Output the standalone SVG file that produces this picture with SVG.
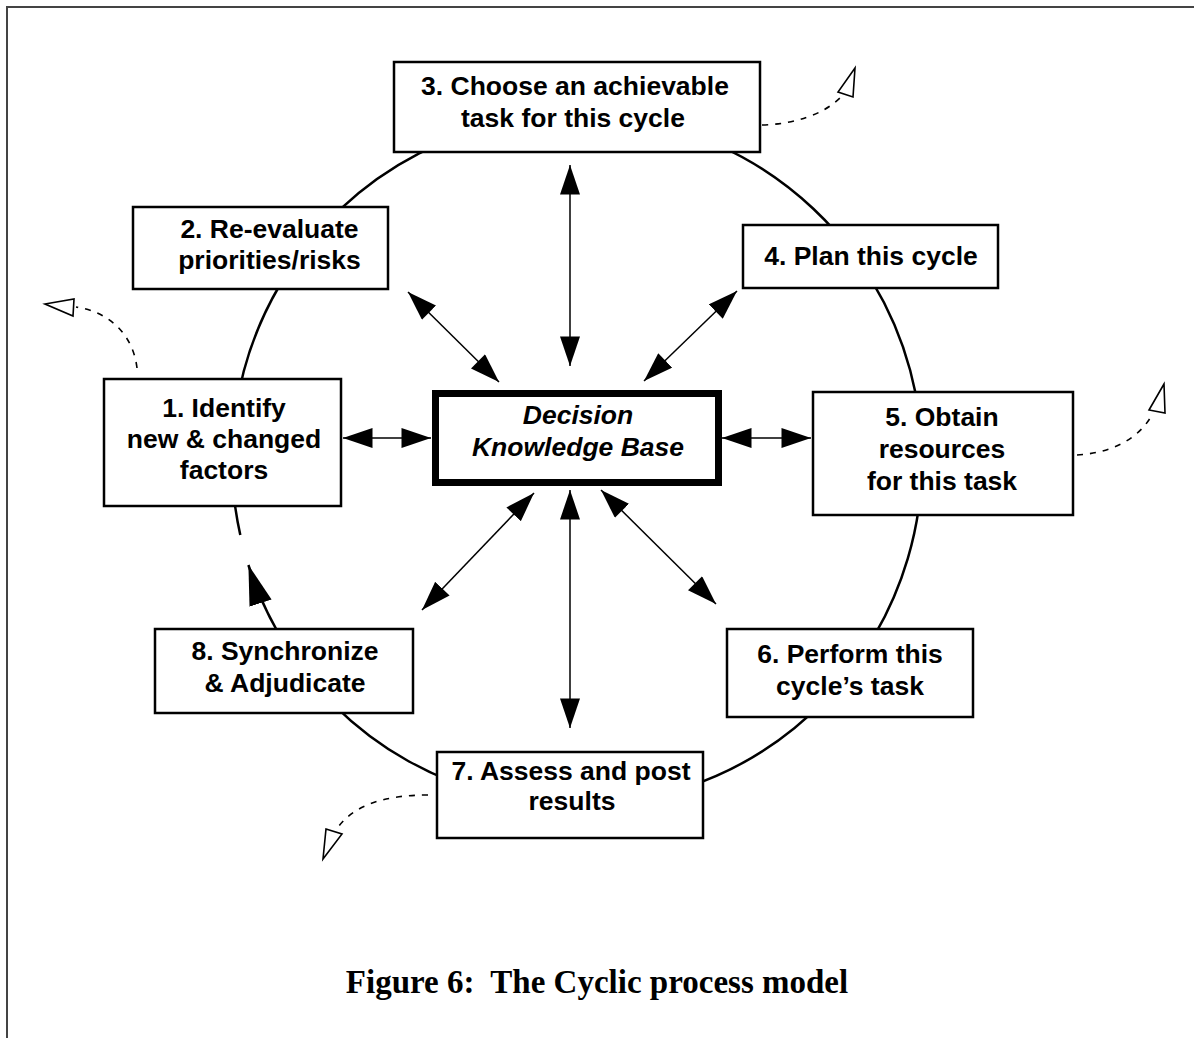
<svg xmlns="http://www.w3.org/2000/svg" width="1194" height="1038" viewBox="0 0 1194 1038">
  <style>
    .box { fill: #fff; stroke: #000; stroke-width: 2.5; }
    .core { fill: #fff; stroke: #000; stroke-width: 7; }
    .lbl { font-family: "Liberation Sans", Arial, sans-serif; font-weight: bold; font-size: 26.5px; text-anchor: middle; fill: #000; }
    .core-lbl { font-family: "Liberation Sans", Arial, sans-serif; font-weight: bold; font-style: italic; font-size: 26.5px; text-anchor: middle; fill: #000; }
    .link { fill: none; stroke: #000; stroke-width: 1.5; marker-start: url(#head); marker-end: url(#head); }
    .ring { fill: none; stroke: #000; stroke-width: 2.5; }
    .dash { fill: none; stroke: #000; stroke-width: 1.6; stroke-dasharray: 6 7; }
    .open { fill: #fff; stroke: #000; stroke-width: 1.6; }
    .caption { font-family: "Liberation Serif", "Times New Roman", serif; font-weight: bold; font-size: 33px; text-anchor: middle; fill: #000; white-space: pre; }
  </style>
  <defs>
    <marker id="head" markerUnits="userSpaceOnUse" markerWidth="30" markerHeight="20" refX="28" refY="9.5" orient="auto-start-reverse" viewBox="0 0 28 19">
      <path d="M0,0 L28,9.5 L0,19 Z" fill="#000"/>
    </marker>
    <marker id="bighead" markerUnits="userSpaceOnUse" markerWidth="40" markerHeight="24" refX="38" refY="11" orient="auto" viewBox="0 0 38 22">
      <path d="M0,0 L38,11 L0,22 Z" fill="#000"/>
    </marker>
  </defs>

  <rect width="1194" height="1038" fill="#fff"/>
  <!-- page frame -->
  <path d="M7,1038 V7 H1194" fill="none" stroke="#444" stroke-width="2"/>

  <!-- cycle ring with the return arrow into step 1 -->
  <path class="ring" d="M240.3,535 A345,345 0 1 1 248.4,565" marker-end="url(#bighead)"/>

  <g id="connectors">
    <line class="link" x1="570" y1="165" x2="570" y2="366"/>
    <line class="link" x1="408" y1="292" x2="499" y2="382"/>
    <line class="link" x1="737" y1="291" x2="644" y2="381"/>
    <line class="link" x1="343" y1="438" x2="431" y2="438"/>
    <line class="link" x1="722" y1="438" x2="811" y2="438"/>
    <line class="link" x1="534" y1="493" x2="422" y2="610"/>
    <line class="link" x1="570" y1="490" x2="570" y2="728"/>
    <line class="link" x1="601" y1="490" x2="716" y2="604"/>

    <!-- dashed outflows -->
    <path class="dash" d="M762,125 C795,124 822,115 840,98"/>
    <polygon class="open" points="855,68 838,92 853,97"/>
    <path class="dash" d="M137,368 C133,335 110,312 76,307"/>
    <polygon class="open" points="45,304 74,299 73,316"/>
    <path class="dash" d="M1077,455 C1110,453 1138,440 1152,415"/>
    <polygon class="open" points="1164,384 1149,410 1165,413"/>
    <path class="dash" d="M428,795 C385,795 355,805 339,826"/>
    <polygon class="open" points="326,829 342,834 323,859"/>
  </g>

  <g id="n3">
    <rect class="box" x="394" y="62" width="366" height="90"/>
    <text class="lbl" x="575" y="95">3. Choose an achievable</text>
    <text class="lbl" x="573" y="127">task for this cycle</text>
  </g>
  <g id="n2">
    <rect class="box" x="133" y="207" width="255" height="82"/>
    <text class="lbl" x="269.5" y="238">2. Re-evaluate</text>
    <text class="lbl" x="269.5" y="269">priorities/risks</text>
  </g>
  <g id="n4">
    <rect class="box" x="743" y="225" width="255" height="63"/>
    <text class="lbl" x="871" y="265">4. Plan this cycle</text>
  </g>
  <g id="n1">
    <rect class="box" x="104" y="379" width="237" height="127"/>
    <text class="lbl" x="224" y="417">1. Identify</text>
    <text class="lbl" x="224" y="448">new &amp; changed</text>
    <text class="lbl" x="224" y="479">factors</text>
  </g>
  <g id="core">
    <rect class="core" x="435.5" y="393.5" width="283" height="89"/>
    <text class="core-lbl" x="578" y="424">Decision</text>
    <text class="core-lbl" x="578" y="456">Knowledge Base</text>
  </g>
  <g id="n5">
    <rect class="box" x="813" y="392" width="260" height="123"/>
    <text class="lbl" x="942" y="426">5. Obtain</text>
    <text class="lbl" x="942" y="458">resources</text>
    <text class="lbl" x="942" y="490">for this task</text>
  </g>
  <g id="n8">
    <rect class="box" x="155" y="629" width="258" height="84"/>
    <text class="lbl" x="285" y="660">8. Synchronize</text>
    <text class="lbl" x="285" y="692">&amp; Adjudicate</text>
  </g>
  <g id="n6">
    <rect class="box" x="727" y="629" width="246" height="88"/>
    <text class="lbl" x="850" y="663">6. Perform this</text>
    <text class="lbl" x="850" y="695">cycle’s task</text>
  </g>
  <g id="n7">
    <rect class="box" x="437" y="752" width="266" height="86"/>
    <text class="lbl" x="571" y="780">7. Assess and post</text>
    <text class="lbl" x="572" y="810">results</text>
  </g>

  <text class="caption" x="597" y="993" xml:space="preserve">Figure 6:  The Cyclic process model</text>
</svg>
